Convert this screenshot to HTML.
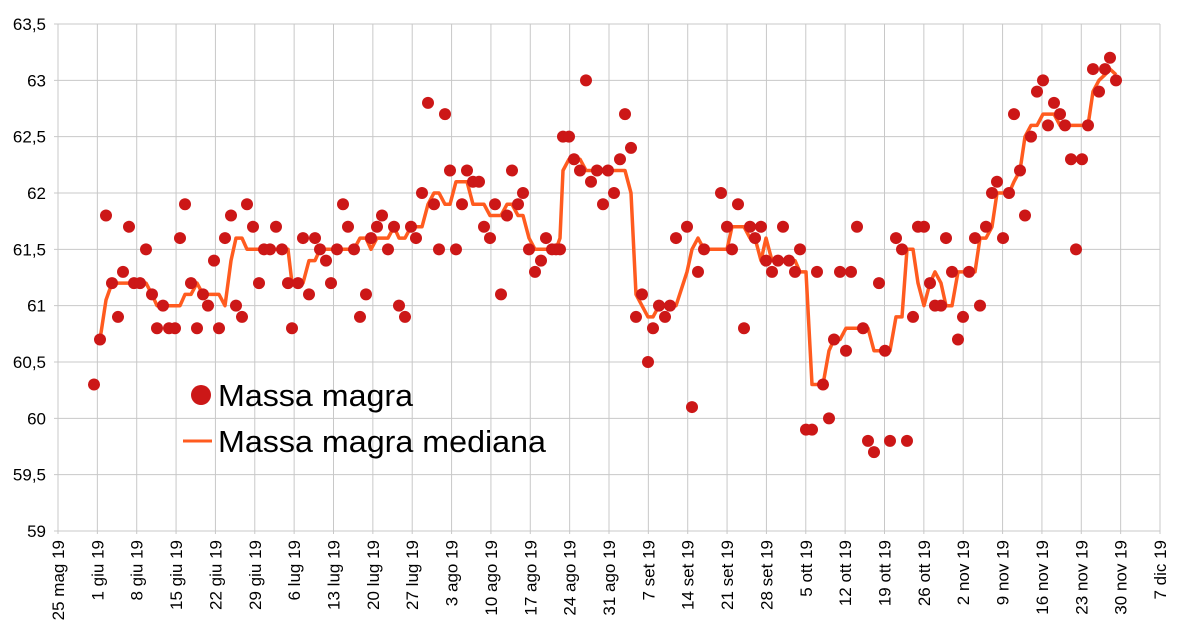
<!DOCTYPE html>
<html><head><meta charset="utf-8"><style>
html,body{margin:0;padding:0;background:#fff;}
svg{display:block;font-family:"Liberation Sans",sans-serif;}
</style></head><body>
<svg id="s" width="1186" height="639" xmlns="http://www.w3.org/2000/svg"></svg>
<script>
const s=document.getElementById('s');
const NS='http://www.w3.org/2000/svg';
function el(t,a,txt){const e=document.createElementNS(NS,t);for(const k in a)e.setAttribute(k,a[k]);if(txt!==undefined)e.textContent=txt;s.appendChild(e);return e;}
const x0=58,x1=1160,yTop=24,yBot=531;
const Y=v=>yBot-(v-59)/4.5*(yBot-yTop);
for(let i=0;i<=9;i++){const v=59+i*0.5,y=Y(v);
 el('line',{x1:x0-4,x2:x1,y1:y,y2:y,stroke:'#c8c8c8','stroke-width':1});
 el('text',{x:46,y:y+6,'text-anchor':'end','font-size':17,fill:'#000'},String(v).replace('.',','));}
const labs=['25 mag 19','1 giu 19','8 giu 19','15 giu 19','22 giu 19','29 giu 19','6 lug 19','13 lug 19','20 lug 19','27 lug 19','3 ago 19','10 ago 19','17 ago 19','24 ago 19','31 ago 19','7 set 19','14 set 19','21 set 19','28 set 19','5 ott 19','12 ott 19','19 ott 19','26 ott 19','2 nov 19','9 nov 19','16 nov 19','23 nov 19','30 nov 19','7 dic 19'];
labs.forEach((l,i)=>{const x=x0+i*(x1-x0)/28;
 el('line',{x1:x,x2:x,y1:yTop,y2:yBot+3,stroke:'#c8c8c8','stroke-width':1});
 el('text',{x:0,y:0,transform:`translate(${x+6},${yBot+9}) rotate(-90)`,'text-anchor':'end','font-size':17,fill:'#000'},l);});
const pts=[[94,60.3],[100,60.7],[106,61.8],[112,61.2],[118,60.9],[123,61.3],[129,61.7],[134,61.2],[140,61.2],[146,61.5],[152,61.1],[157,60.8],[163,61.0],[169,60.8],[175,60.8],[180,61.6],[185,61.9],[191,61.2],[197,60.8],[203,61.1],[208,61.0],[214,61.4],[219,60.8],[225,61.6],[231,61.8],[236,61.0],[242,60.9],[247,61.9],[253,61.7],[259,61.2],[264,61.5],[270,61.5],[276,61.7],[282,61.5],[288,61.2],[292,60.8],[298,61.2],[303,61.6],[309,61.1],[315,61.6],[320,61.5],[326,61.4],[331,61.2],[337,61.5],[343,61.9],[348,61.7],[354,61.5],[360,60.9],[366,61.1],[371,61.6],[377,61.7],[382,61.8],[388,61.5],[394,61.7],[399,61.0],[405,60.9],[411,61.7],[416,61.6],[422,62.0],[428,62.8],[434,61.9],[439,61.5],[445,62.7],[450,62.2],[456,61.5],[462,61.9],[467,62.2],[473,62.1],[479,62.1],[484,61.7],[490,61.6],[495,61.9],[501,61.1],[507,61.8],[512,62.2],[518,61.9],[523,62.0],[529,61.5],[535,61.3],[541,61.4],[546,61.6],[552,61.5],[556,61.5],[560,61.5],[563,62.5],[569,62.5],[574,62.3],[580,62.2],[586,63.0],[591,62.1],[597,62.2],[603,61.9],[608,62.2],[614,62.0],[620,62.3],[625,62.7],[631,62.4],[636,60.9],[642,61.1],[648,60.5],[653,60.8],[659,61.0],[665,60.9],[670,61.0],[676,61.6],[687,61.7],[692,60.1],[698,61.3],[704,61.5],[721,62.0],[727,61.7],[732,61.5],[738,61.9],[744,60.8],[750,61.7],[755,61.6],[761,61.7],[766,61.4],[772,61.3],[778,61.4],[783,61.7],[789,61.4],[795,61.3],[800,61.5],[806,59.9],[812,59.9],[817,61.3],[823,60.3],[829,60.0],[834,60.7],[840,61.3],[846,60.6],[851,61.3],[857,61.7],[863,60.8],[868,59.8],[874,59.7],[879,61.2],[885,60.6],[890,59.8],[896,61.6],[902,61.5],[907,59.8],[913,60.9],[918,61.7],[924,61.7],[930,61.2],[935,61.0],[941,61.0],[946,61.6],[952,61.3],[958,60.7],[963,60.9],[969,61.3],[975,61.6],[980,61.0],[986,61.7],[992,62.0],[997,62.1],[1003,61.6],[1009,62.0],[1014,62.7],[1020,62.2],[1025,61.8],[1031,62.5],[1037,62.9],[1043,63.0],[1048,62.6],[1054,62.8],[1060,62.7],[1065,62.6],[1071,62.3],[1076,61.5],[1082,62.3],[1088,62.6],[1093,63.1],[1099,62.9],[1105,63.1],[1110,63.2],[1116,63.0]];
const line=['100,'+Y(60.7).toFixed(1)];
for(let i=2;i<pts.length;i++){const w=pts.slice(Math.max(0,i-3),Math.min(pts.length,i+4)).map(p=>p[1]).sort((a,b)=>a-b);
 const n=w.length;const m=n%2?w[(n-1)/2]:(w[n/2-1]+w[n/2])/2;line.push(pts[i][0]+','+Y(m).toFixed(1));}
el('polyline',{points:line.join(' '),fill:'none',stroke:'#ff5b1f','stroke-width':3.5,'stroke-linejoin':'round'});
pts.forEach(p=>el('circle',{cx:p[0],cy:Y(p[1]),r:6,fill:'#cc1717'}));
el('circle',{cx:201,cy:395,r:10,fill:'#cc1717'});
el('text',{x:218,y:406,'font-size':31,fill:'#000',textLength:195,lengthAdjust:'spacingAndGlyphs'},'Massa magra');
el('line',{x1:183,x2:212,y1:441,y2:441,stroke:'#ff5b1f','stroke-width':3});
el('text',{x:218,y:452,'font-size':31,fill:'#000',textLength:328,lengthAdjust:'spacingAndGlyphs'},'Massa magra mediana');
</script>
</body></html>
